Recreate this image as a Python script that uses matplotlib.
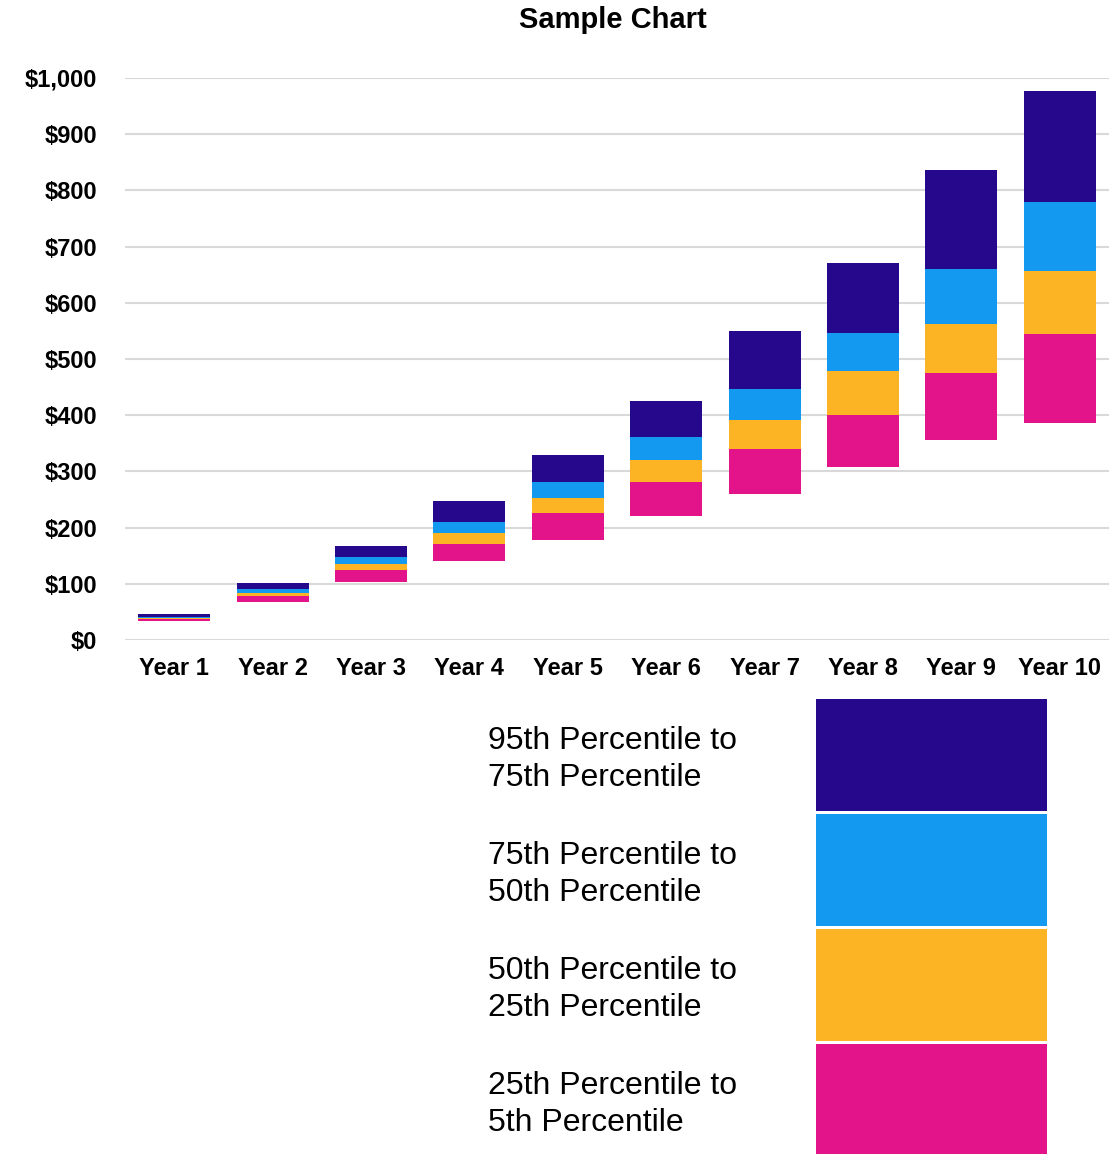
import numpy as np
import matplotlib.pyplot as plt

# percentile values per year (dollars)
years = ["Year 1", "Year 2", "Year 3", "Year 4", "Year 5",
         "Year 6", "Year 7", "Year 8", "Year 9", "Year 10"]
p95 = [46, 102, 168, 247, 329, 426, 550, 671, 836, 976]
p75 = [41, 91, 147, 210, 281, 362, 446, 547, 660, 779]
p50 = [39, 84, 134.5, 190, 253, 320, 392, 478, 563, 657]
p25 = [36.5, 78, 124, 171, 226, 281, 340, 401, 475, 545]
p5 = [33, 68, 104, 141, 178, 221, 260, 308, 355, 387]
yticks = [0, 100, 200, 300, 400, 500, 600, 700, 800, 900, 1000]

labels = ["95th Percentile to\n75th Percentile",
          "75th Percentile to\n50th Percentile",
          "50th Percentile to\n25th Percentile",
          "25th Percentile to\n5th Percentile"]
colors = ["#26088c", "#1499f0", "#fcb424", "#e3148a"]

plt.rcParams["font.family"] = ["Liberation Sans", "DejaVu Sans"]

W, H = 1109, 1154
fig = plt.figure(figsize=(W / 100, H / 100), dpi=100)
ax = fig.add_axes([125 / W, 1 - 640 / H, 1 - 125 / W, (640 - 78) / H])

x = np.arange(len(years))
lows = [p5, p25, p50, p75]
highs = [p25, p50, p75, p95]
# draw from bottom band to top band
for lo, hi, c in zip(lows, highs, colors[::-1]):
    lo = np.array(lo)
    hi = np.array(hi)
    ax.bar(x, hi - lo, bottom=lo, width=0.73, color=c, zorder=3)

ax.set_xlim(-0.5, len(years) - 0.5)
ax.set_ylim(0, 1000)
ax.set_yticks(yticks)
ax.set_yticklabels([f"${v:,}" for v in yticks], fontsize=17, fontweight="bold")
ax.set_xticks(x)
ax.set_xticklabels(years, fontsize=17, fontweight="bold")
ax.tick_params(axis="y", length=0, pad=20)
ax.tick_params(axis="x", length=0, pad=12)
ax.grid(axis="y", color="#d9d9d9", linewidth=1.5, zorder=0)
for s in ax.spines.values():
    s.set_visible(False)

fig.text(613 / W, 1 - 20 / H, "Sample Chart", ha="center", va="center",
         fontsize=21, fontweight="bold")

# legend drawn in pixel coordinates
leg = fig.add_axes([0, 0, 1, 1], zorder=-1)
leg.set_xlim(0, W)
leg.set_ylim(H, 0)
leg.axis("off")
for i, (lab, c) in enumerate(zip(labels, colors)):
    yc = 754.5 + i * 115
    leg.barh(yc, 231, left=816, height=112, color=c)
    leg.text(488, yc + 5, lab, ha="left", va="center", fontsize=23, linespacing=1.33)

fig.savefig("out.png", dpi=100)
